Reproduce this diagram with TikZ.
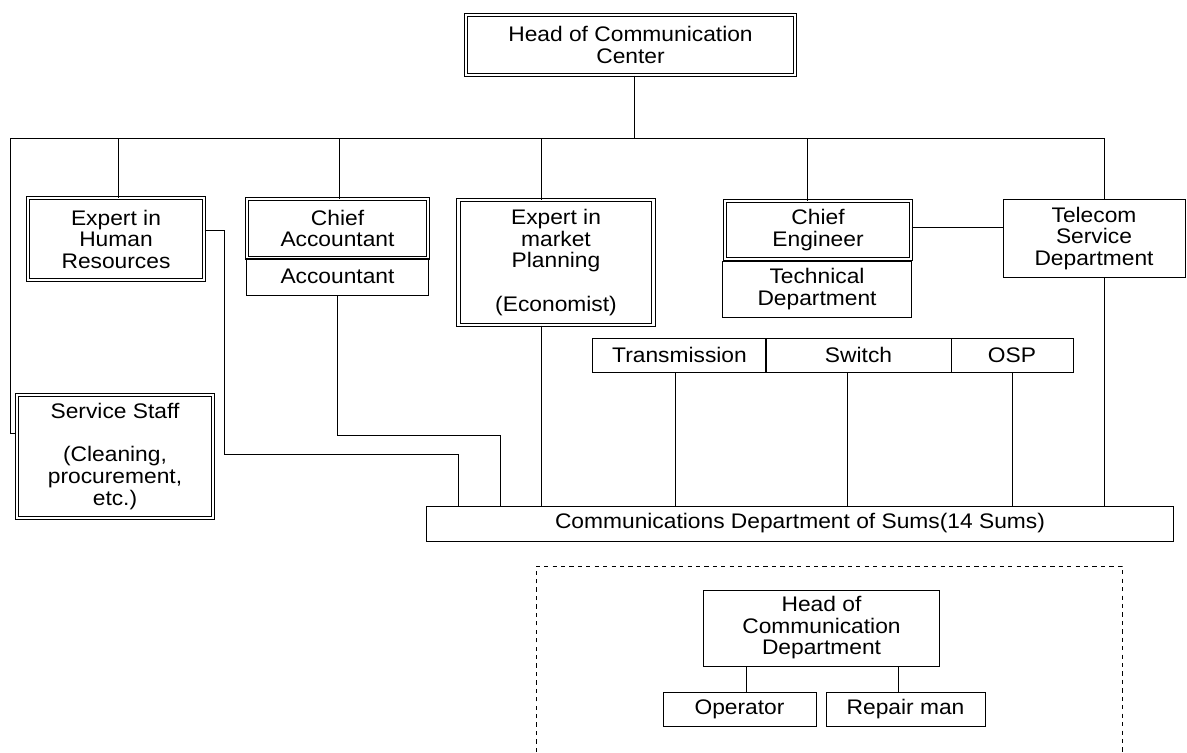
\documentclass[tikz,border=0pt]{standalone}
\usepackage{fontspec}
\setmainfont{Liberation Sans}[FakeStretch=1.08]

\begin{document}
\begin{tikzpicture}[x=0.025cm,y=-0.025cm,
  line width=0.7pt,
  box/.style={draw,align=center,inner sep=1pt,font=\fontsize{15}{15.3}\selectfont},
  dbox/.style={box,double,double distance=1.6pt},
  dashbox/.style={draw,line width=0.6pt,dash pattern=on 3pt off 3pt}]
\useasboundingbox (0,0) rectangle (1187,752);

% Head and its bus
\node[dbox,minimum width=8.225cm,minimum height=1.5cm] (head) at (630.5,45) {Head of Communication\\Center};
\coordinate (busL) at (10,138);
\coordinate (busR) at (1104,138);
\draw (head.south -| 634,0) -- (busL -| 634,0);
\draw (busL) -- (busR);

% Second row
\node[dbox,minimum width=4.4cm,minimum height=2.05cm] (hr) at (116,239) {Expert in\\Human\\Resources};
\node[dbox,minimum width=4.525cm,minimum height=1.475cm] (ca) at (337.5,228.5) {Chief\\Accountant};
\node[box,minimum width=4.525cm,minimum height=0.925cm] (acc) at (337.5,276.5) {Accountant};
\node[dbox,minimum width=4.875cm,minimum height=3.125cm] (mkt) at (556,262.5) {Expert in\\market\\Planning\\[15.3pt](Economist)};
\node[dbox,minimum width=4.65cm,minimum height=1.45cm] (ce) at (818,230) {Chief\\Engineer};
\node[box,minimum width=4.7cm,minimum height=1.4cm] (tech) at (817,289) {Technical\\Department};
\node[box,minimum width=4.55cm,minimum height=1.95cm] (tel) at (1094,238.5) {Telecom\\Service\\Department};

\draw (hr.north -| 118,0) -- (busL -| 118,0);
\draw (ca.north -| 339,0) -- (busL -| 339,0);
\draw (mkt.north -| 541,0) -- (busL -| 541,0);
\draw (ce.north -| 807,0) -- (busL -| 807,0);
\draw (tel.north -| busR) -- (busR);
\draw (ce.east |- 0,227) -- (tel.west |- 0,227);

% Technical sections
\node[box,minimum width=4.325cm,minimum height=0.85cm] (tr) at (679.5,355) {Transmission};
\node[box,minimum width=4.625cm,minimum height=0.85cm] (sw) at (858.5,355) {Switch};
\node[box,minimum width=3.05cm,minimum height=0.85cm] (osp) at (1012,355) {OSP};

% Service staff
\node[dbox,minimum width=4.9cm,minimum height=3.075cm] (srv) at (115,456.5) {Service Staff\\[15.3pt](Cleaning,\\procurement,\\etc.)};
\draw (busL) |- (srv.west |- 0,433);

% Sums
\node[box,minimum width=18.65cm,minimum height=0.875cm] (comm) at (800,523.5) {Communications Department of Sums(14 Sums)};
\draw (hr.east |- 0,230) -| (224,454) -| (comm.north -| 458,0);
\draw (acc.south -| 337,0) |- (500,435) -- (comm.north -| 500,0);
\draw (mkt.south -| 541,0) -- (comm.north -| 541,0);
\draw (tr.south -| 675,0) -- (comm.north -| 675,0);
\draw (sw.south -| 847,0) -- (comm.north -| 847,0);
\draw (osp.south) -- (osp.south |- comm.north);
\draw (tel.south -| busR) -- (comm.north -| busR);

% Department of a Sum
\draw[dashbox] (536,752) -- (536,566) -- (1122,566) -- (1122,752);
\node[box,minimum width=5.875cm,minimum height=1.9cm] (hd) at (821.5,628) {Head of\\Communication\\Department};
\node[box,minimum width=3.825cm,minimum height=0.85cm] (op) at (739.5,709) {Operator};
\node[box,minimum width=3.975cm,minimum height=0.85cm] (rp) at (905.5,709) {Repair man};
\draw (op.north -| 746,0) -- (hd.south -| 746,0);
\draw (rp.north -| 898,0) -- (hd.south -| 898,0);

\end{tikzpicture}
\end{document}
